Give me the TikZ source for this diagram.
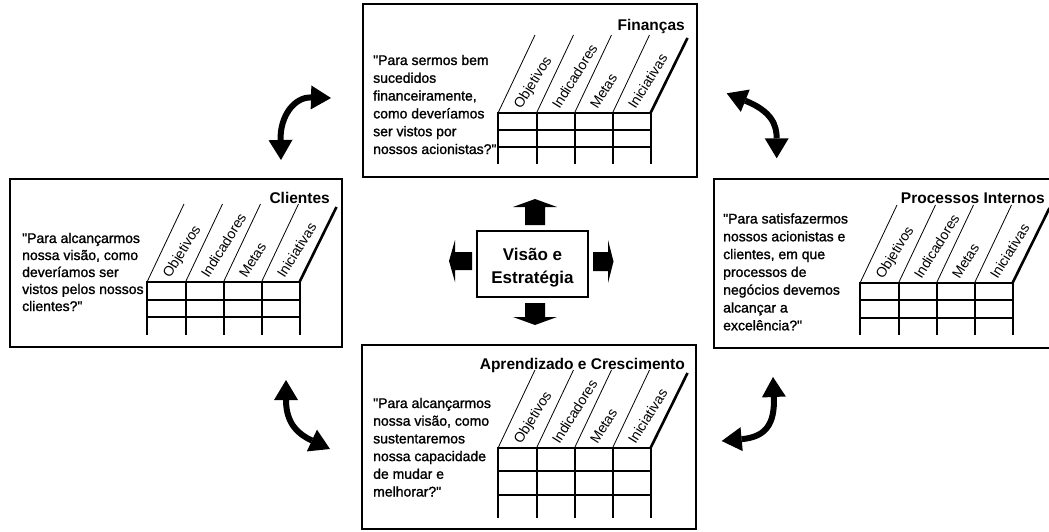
\documentclass[tikz,border=0pt]{standalone}
\usepackage{fontspec}
\setmainfont{Liberation Sans}
\newfontfamily\qfont{Liberation Sans}[FakeBold=1.3]
\usetikzlibrary{arrows.meta}

\tikzset{
  scbox/.style={draw, line width=2pt, rectangle, outer sep=0pt, inner sep=0pt, anchor=north west},
  boxtitle/.style={font=\bfseries\fontsize{15.5}{18}\selectfont, anchor=base east, inner sep=0pt},
  qline/.style={font=\qfont\fontsize{14}{17}\selectfont, anchor=base west, inner sep=0pt},
  collabel/.style={font=\fontsize{14}{16}\selectfont, anchor=base west, inner sep=0pt, rotate=58},
  gridline/.style={line width=2pt},
  slantline/.style={line width=0.8pt},
  slantbold/.style={line width=2.6pt},
  centerbox/.style={draw, line width=1.5pt, rectangle, outer sep=0pt, inner sep=0pt},
  centertext/.style={font=\bfseries\fontsize{17}{20}\selectfont, anchor=base, inner sep=0pt},
  blockarrow/.style={fill=black},
  cyclearrow/.style={line width=6pt,
    {Triangle[length=20pt,width=24pt,line width=0pt]}-{Triangle[length=20pt,width=24pt,line width=0pt]}},
}

% scorecard grid: #1 name prefix, #2/#3 top-left corner, #4 row height
\newcommand{\bsctable}[4]{%
  \begin{scope}[shift={(#2,#3)}]
    \foreach \ry in {0,1,2}
      \draw[gridline, line cap=rect] (0,\ry*#4) -- (152.5,\ry*#4);
    \foreach \cx in {0,38.5,76.5,114.5,152.5}
      \draw[gridline] (\cx,-1) -- (\cx,3*#4);
    \foreach \cx in {0,38.5,76.5,114.5}
      \draw[slantline] (\cx,0) -- ++(37,-78);
    \draw[slantbold] (152.5,0) -- ++(37,-75);
    \foreach \cx/\lab [count=\i] in {0/Objetivos,38.5/Indicadores,76.5/Metas,114.5/Iniciativas}
      \node[collabel] (#1-lab\i) at (\cx+23,-3) {\lab};
  \end{scope}}

% question lines: #1 name prefix, #2/#3 first baseline, #4 line step, #5 lines
\newcommand{\qtext}[5]{%
  \foreach \t [count=\i] in {#5}
    \node[qline] (#1-q\i) at (#2,#3+\i*#4-#4) {\t};}

\begin{document}
\begin{tikzpicture}[x=1pt,y=-1pt]
  \useasboundingbox (0,0) rectangle (1049,532);
  \fill[white] (0,0) rectangle (1049,532);

  % the four perspectives
  \node[scbox, minimum width=334pt, minimum height=173pt] (fin) at (363,4) {};
  \node[scbox, minimum width=332pt, minimum height=168pt] (cli) at (10,179) {};
  \node[scbox, minimum width=338pt, minimum height=169pt] (pro) at (714,179) {};
  \node[scbox, minimum width=334pt, minimum height=184pt] (apr) at (362,345) {};

  \node[boxtitle] (fin-t) at (685,31) {Finanças};
  \node[boxtitle] (cli-t) at (330,203) {Clientes};
  \node[boxtitle] (pro-t) at (1045,203) {Processos Internos};
  \node[boxtitle] (apr-t) at (685,369) {Aprendizado e Crescimento};

  \qtext{fin}{373}{65}{17.8}{{"Para sermos bem},{sucedidos},{financeiramente,},{como deveríamos},{ser vistos por},{nossos acionistas?"}}
  \qtext{cli}{22}{243}{17}{{"Para alcançarmos},{nossa visão, como},{deveríamos ser},{vistos pelos nossos},{clientes?"}}
  \qtext{pro}{723}{223.5}{17.8}{{"Para satisfazermos},{nossos acionistas e},{clientes, em que},{processos de},{negócios devemos},{alcançar a},{excelência?"}}
  \qtext{apr}{373}{408}{17.7}{{"Para alcançarmos},{nossa visão, como},{sustentaremos},{nossa capacidade},{de mudar e},{melhorar?"}}

  \bsctable{fin}{498}{113}{17}
  \bsctable{cli}{147}{282}{17.5}
  \bsctable{pro}{860}{283}{17.3}
  \bsctable{apr}{498}{448}{23.3}

  % vision and strategy at the centre
  \node[centerbox, minimum width=111pt, minimum height=66pt] (vis) at (532.5,264) {};
  \node[centertext] (vis-1) at (532.5,260) {Visão e};
  \node[centertext] (vis-2) at (532.5,283) {Estratégia};

  \fill[blockarrow] (525,225) -- (525,207) -- (513,207) -- (535,199) -- (557,207) -- (545,207) -- (545,225) -- cycle;
  \fill[blockarrow] (525,303) -- (525,317) -- (513,317) -- (535,325) -- (557,317) -- (545,317) -- (545,303) -- cycle;
  \fill[blockarrow] (472,252) -- (455,252) -- (455,240) -- (449,261) -- (455,282) -- (455,270) -- (472,270) -- cycle;
  \fill[blockarrow] (593,252) -- (608,252) -- (608,240) -- (613.5,261.5) -- (608,283) -- (608,271) -- (593,271) -- cycle;

  % cause-and-effect links between the perspectives
  \coordinate (tl-a) at (281,160);
  \coordinate (tl-b) at (331,98);
  \coordinate (bl-a) at (286,380);
  \coordinate (bl-b) at (330,449);
  \coordinate (tr-a) at (726.7,93.3);
  \coordinate (tr-b) at (776.7,158.3);
  \coordinate (br-a) at (773,377);
  \coordinate (br-b) at (721.7,441);

  \draw[cyclearrow] (tl-a) .. controls (280,115) and (295,97) .. (tl-b);
  \draw[cyclearrow] (bl-a) .. controls (286,425) and (300,435) .. (bl-b);
  \draw[cyclearrow] (tr-a) .. controls (771.7,111.3) and (776.7,125) .. (tr-b);
  \draw[cyclearrow] (br-a) .. controls (775,425) and (765,437) .. (br-b);
\end{tikzpicture}
\end{document}
